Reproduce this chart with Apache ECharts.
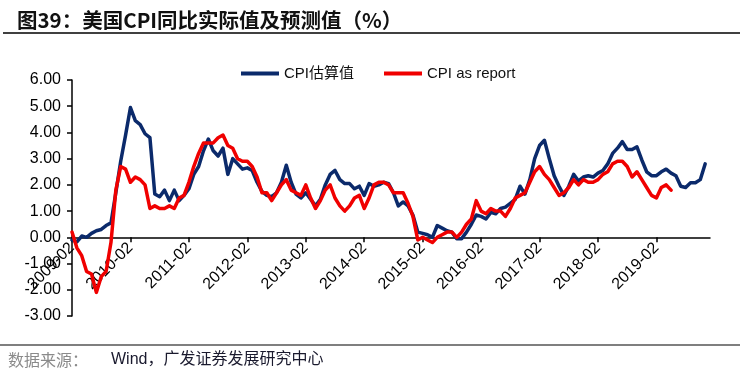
<!DOCTYPE html>
<html>
<head>
<meta charset="utf-8">
<script src="https://cdn.jsdelivr.net/npm/echarts@6/dist/echarts.min.js"></script>
<style>html,body{margin:0;padding:0;background:#fff}#c{width:740px;height:378px}</style>
</head>
<body>
<div id="c"></div>
<script>
// Monthly categories 2009-02 .. 2020-01
var startYear = 2009, startMonth = 2, monthCount = 132;
var categories = [];
for (var k = 0; k < monthCount; k++) {
  var m = startMonth - 1 + k;
  var y = startYear + Math.floor(m / 12);
  var mm = (m % 12) + 1;
  categories.push(y + '-' + (mm < 10 ? '0' + mm : '' + mm));
}

var seriesNames = ['CPI估算值', 'CPI as report'];

// CPI estimate (navy), 2009-02 .. 2019-12
var cpiEstimate = [
  -0.1, -0.17, 0.05, 0.0, 0.15, 0.25, 0.3, 0.45, 0.55, 1.7, 2.9, 3.9,
  4.95, 4.45, 4.3, 3.95, 3.8, 1.65, 1.55, 1.8, 1.4, 1.8, 1.4, 1.6,
  1.85, 2.4, 2.7, 3.3, 3.75, 3.3, 3.1, 3.4, 2.4, 3.0, 2.8, 2.6,
  2.65, 2.55, 2.1, 1.75, 1.6, 1.55, 1.7, 2.1, 2.75, 2.1, 1.65, 1.5,
  1.7, 1.45, 1.2, 1.45, 2.0, 2.4, 2.55, 2.2, 2.05, 2.05, 1.85, 1.95,
  1.6, 2.05, 1.95, 2.0, 2.1, 2.05, 1.7, 1.2, 1.35, 1.2, 0.85, 0.2,
  0.15, 0.1, 0.0, 0.45, 0.35, 0.25, 0.2, -0.05, -0.05, 0.2, 0.5, 0.85,
  0.8, 0.7, 0.95, 0.9, 1.1, 1.15, 1.3, 1.45, 1.95, 1.65, 2.2, 3.0,
  3.5, 3.7, 3.0, 2.35, 1.95, 1.6, 1.95, 2.4, 2.15, 2.3, 2.35, 2.3,
  2.45, 2.55, 2.8, 3.2, 3.4, 3.65, 3.35, 3.35, 3.45, 2.95, 2.5, 2.35,
  2.35, 2.5, 2.6, 2.45, 2.35, 1.95, 1.9, 2.08, 2.08, 2.2, 2.8
];

// CPI as reported (red), 2009-02 .. 2019-05
var cpiReported = [
  0.2, -0.4, -0.7, -1.3, -1.4, -2.1, -1.5, -1.3, -0.2, 1.8, 2.7,
  2.6, 2.1, 2.3, 2.2, 2.0, 1.1, 1.2, 1.1, 1.1, 1.2, 1.1, 1.5,
  1.6, 2.1, 2.7, 3.2, 3.6, 3.6, 3.6, 3.8, 3.9, 3.5, 3.4, 3.0,
  2.9, 2.9, 2.7, 2.3, 1.7, 1.7, 1.4, 1.7, 2.0, 2.2, 1.8, 1.7,
  1.6, 2.0, 1.5, 1.1, 1.4, 1.8, 2.0, 1.5, 1.2, 1.0, 1.2, 1.5,
  1.6, 1.1, 1.5, 2.0, 2.1, 2.1, 2.0, 1.7, 1.7, 1.7, 1.3, 0.8,
  -0.1, 0.0, -0.1, -0.2, 0.0, 0.1, 0.2, 0.2, 0.0, 0.2, 0.5, 0.7,
  1.4, 1.0, 0.9, 1.1, 1.0, 1.0, 0.8, 1.1, 1.5, 1.6, 1.7, 2.1,
  2.5, 2.7, 2.4, 2.2, 1.9, 1.6, 1.7, 1.9, 2.2, 2.0, 2.2, 2.1,
  2.1, 2.2, 2.4, 2.5, 2.8, 2.9, 2.9, 2.7, 2.3, 2.5, 2.2, 1.9,
  1.6, 1.5, 1.9, 2.0, 1.8
];

var yMin = -3, yMax = 6, yStep = 1;
var titleText = '图39：美国CPI同比实际值及预测值（%）';
var sourceLabel = '数据来源：';
var sourceText = 'Wind，广发证券发展研究中心';

var FONT = '"Liberation Sans", Arial, "Noto Sans CJK SC", sans-serif';
var NAVY = '#0b2a6b', RED = '#f00000';

var gridTop = 80, gridBottom = 62, chartH = 378;
var plotH = chartH - gridTop - gridBottom;
// move the x axis up so it sits on the zero line
var zeroOffset = -plotH * (0 - yMin) / (yMax - yMin);

var chart = echarts.init(document.getElementById('c'), null, {renderer: 'canvas'});
chart.setOption({
  animation: false,
  backgroundColor: '#fff',
  title: {
    text: titleText, left: 12, top: 5,
    textStyle: {fontSize: 20.5, fontWeight: 'bold', color: '#111', fontFamily: '"Noto Sans CJK SC", "Liberation Sans", sans-serif'}
  },
  legend: {
    data: seriesNames, left: 236, top: 61, itemGap: 30,
    icon: 'rect', itemWidth: 38, itemHeight: 4,
    textStyle: {fontSize: 15, color: '#111', fontFamily: FONT}
  },
  grid: {left: 72, right: 30, top: gridTop, bottom: gridBottom, containLabel: false},
  xAxis: {
    type: 'category', data: categories, boundaryGap: false,
    offset: zeroOffset,
    axisLine: {onZero: false, lineStyle: {color: '#000', width: 1.5}},
    axisTick: {interval: 11, length: 5, lineStyle: {color: '#000', width: 1.5}},
    axisLabel: {interval: 11, rotate: 45, margin: 8, fontSize: 16, color: '#000', fontFamily: FONT},
    splitLine: {show: false}
  },
  yAxis: {
    type: 'value', min: yMin, max: yMax, interval: yStep,
    axisLine: {show: true, lineStyle: {color: '#000', width: 1.5}},
    axisTick: {show: true, length: 5, lineStyle: {color: '#000', width: 1.5}},
    axisLabel: {fontSize: 16, color: '#000', margin: 11, fontFamily: FONT,
      formatter: function (v) { return v.toFixed(2); }},
    splitLine: {show: false}
  },
  graphic: [
    {type: 'line', shape: {x1: 3, y1: 33, x2: 740, y2: 33}, style: {stroke: '#000', lineWidth: 1.5}},
    {type: 'line', shape: {x1: 0, y1: 345, x2: 740, y2: 345}, style: {stroke: '#000', lineWidth: 1.2}},
    {type: 'text', left: 8, top: 352, style: {text: sourceLabel, fill: '#8a8a8a', font: '16px "Noto Sans CJK SC", sans-serif'}},
    {type: 'text', left: 111, top: 352, style: {text: sourceText, fill: '#1a1a2e', font: '16px "Liberation Sans", "Noto Sans CJK SC", sans-serif'}}
  ],
  series: [
    {name: seriesNames[0], type: 'line', data: cpiEstimate, showSymbol: false, symbol: 'none',
      lineStyle: {color: NAVY, width: 3.5, join: 'round', cap: 'round'}, itemStyle: {color: NAVY}, z: 2},
    {name: seriesNames[1], type: 'line', data: cpiReported, showSymbol: false, symbol: 'none',
      lineStyle: {color: RED, width: 3.5, join: 'round', cap: 'round'}, itemStyle: {color: RED}, z: 3}
  ]
});
</script>
</body>
</html>
